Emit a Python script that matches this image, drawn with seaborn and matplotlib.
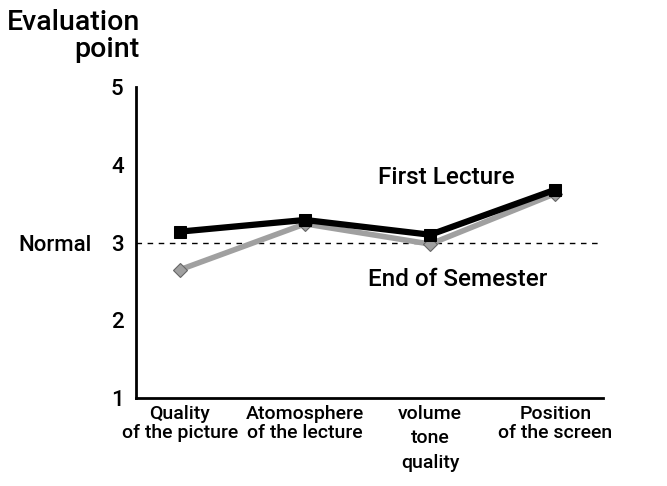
import pandas as pd
import seaborn as sns
import matplotlib.pyplot as plt

categories = ["Quality\nof the picture", "Atomosphere\nof the lecture",
              "volume\ntone\nquality", "Position\nof the screen"]
first_lecture = [3.14, 3.29, 3.10, 3.68]
end_of_semester = [2.65, 3.24, 2.98, 3.63]
y_ticks = [1, 2, 3, 4, 5]

df = pd.DataFrame({
    "pos": list(range(len(categories))) * 2,
    "score": first_lecture + end_of_semester,
    "series": ["First Lecture"] * 4 + ["End of Semester"] * 4,
})

sns.set_style("white")
plt.rcParams["font.family"] = ["Roboto", "DejaVu Sans"]
plt.rcParams["font.weight"] = "medium"
plt.rcParams["text.color"] = "black"
plt.rcParams["xtick.color"] = "black"
plt.rcParams["ytick.color"] = "black"

fig = plt.figure(figsize=(6.67, 4.86), dpi=100)
ax = fig.add_axes([0.204, 0.181, 0.70, 0.64])

# Normal reference line
ax.axhline(3, color="black", linestyle=(0, (4, 4)), linewidth=1.0, zorder=1)

sns.lineplot(data=df[df.series == "End of Semester"], x="pos", y="score",
             color="#a0a0a0", linewidth=4, marker="D", markersize=7,
             markeredgecolor="#666666", markeredgewidth=0.8, ax=ax, zorder=2)
sns.lineplot(data=df[df.series == "First Lecture"], x="pos", y="score",
             color="black", linewidth=4.5, marker="s", markersize=8,
             markeredgecolor="black", ax=ax, zorder=3)

ax.set_xlim(-0.35, 3.38)
ax.set_ylim(1, 5)
ax.set_xticks(range(len(categories)))
ax.set_xticklabels(categories, fontsize=14, fontweight="medium", linespacing=1.05)
ax.get_xticklabels()[2].set_linespacing(1.45)
ax.set_yticks(y_ticks)
ax.set_yticklabels([str(t) for t in y_ticks], fontsize=16, fontweight="medium")
ax.tick_params(axis="x", direction="in", length=3, width=1, pad=5)
ax.tick_params(axis="y", length=0, pad=9)
ax.set_xlabel("")
ax.set_ylabel("")

for side in ["top", "right"]:
    ax.spines[side].set_visible(False)
for side in ["left", "bottom"]:
    ax.spines[side].set_color("black")
    ax.spines[side].set_linewidth(2)

fig.text(140 / 667, 1 - 9 / 486, "Evaluation\npoint", ha="right", va="top",
         fontsize=20.5, fontweight="medium", linespacing=1.0)
fig.text(92 / 667, 1 - 245 / 486, "Normal", ha="right", va="center",
         fontsize=16, fontweight="medium")
ax.text(1.58, 3.83, "First Lecture", ha="left", va="center",
        fontsize=17.5, fontweight="medium")
ax.text(1.50, 2.52, "End of Semester", ha="left", va="center",
        fontsize=17.5, fontweight="medium")

fig.savefig("out.png", dpi=100)
